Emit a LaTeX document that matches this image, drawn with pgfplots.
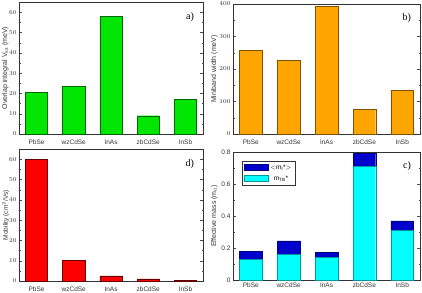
\documentclass[border=0pt]{standalone}
\usepackage{pgfplots}
\pgfplotsset{compat=1.18}
\usepackage{fontspec}
\setmainfont{Liberation Sans}
\newfontfamily\serifp{Liberation Serif}
\definecolor{cgreen}{RGB}{0,230,0}
\definecolor{corange}{RGB}{255,165,0}
\definecolor{cred}{RGB}{255,0,0}
\definecolor{cblue}{RGB}{0,0,205}
\definecolor{ccyan}{RGB}{0,255,255}
\begin{document}
\begin{tikzpicture}[x=1pt,y=1pt]
\useasboundingbox (0,0) rectangle (422,292);
\pgfplotsset{
  every axis/.append style={
    scale only axis, anchor=south west,
    xmin=-0.47, xmax=4.47,
    xtick={0,1,2,3,4},
    xticklabels={PbSe,wzCdSe,InAs,zbCdSe,InSb},
    tick label style={font=\fontsize{6.5}{7}\selectfont, color=black!80},
    x tick style={draw=none},
    y tick style={black!70},
    minor y tick num=1,
    major tick length=3pt, minor tick length=1.5pt,
    ytick pos=both, tick align=inside,
    axis line style={black!80},
    ymin=0,
    bar width=0.6,
    xticklabel style={yshift=1pt},
    yticklabel style={xshift=1pt},
  }
}
% a)
\begin{axis}[at={(19pt,158pt)}, width=184pt, height=132pt, ymax=65, ybar,
  ytick={0,10,...,60},
  ylabel={Overlap integral V$_{\mathrm{ss}}$ (meV)},
  ylabel style={font=\fontsize{7}{8}\selectfont, color=black!80, at={(axis description cs:-0.075,0.5)}, anchor=center}]
\addplot[fill=cgreen, draw=black!60!green] coordinates {(0,20.5) (1,23.5) (2,57.8) (3,9) (4,17)};
\node[font=\serifp\fontsize{10}{11}\selectfont, anchor=north east] at (rel axis cs:0.97,0.95) {a)};
\end{axis}
% b)
\begin{axis}[at={(233pt,158pt)}, width=187pt, height=130pt, ymax=400, ybar,
  ytick={0,100,...,400},
  ylabel={Miniband width (meV)},
  ylabel style={font=\fontsize{7}{8}\selectfont, color=black!80, at={(axis description cs:-0.1,0.5)}, anchor=center}]
\addplot[fill=corange, draw=black!50!corange] coordinates {(0,258) (1,227) (2,392) (3,75) (4,135)};
\node[font=\serifp\fontsize{10}{11}\selectfont, anchor=north east] at (rel axis cs:0.97,0.95) {b)};
\end{axis}
% d)
\begin{axis}[at={(19pt,11pt)}, width=184pt, height=132pt, ymax=65, ybar,
  ytick={0,10,...,60},
  ylabel={Mobility (cm$^2$/Vs)},
  ylabel style={font=\fontsize{6.5}{7}\selectfont, color=black!80, at={(axis description cs:-0.072,0.5)}, anchor=center}]
\addplot[fill=cred, draw=black!60!red] coordinates {(0,60) (1,10) (2,2.5) (3,1.0) (4,0.3)};
\node[font=\serifp\fontsize{10}{11}\selectfont, anchor=north east] at (rel axis cs:0.97,0.95) {d)};
\end{axis}
% c)
\begin{axis}[at={(233pt,12pt)}, width=187pt, height=128pt, ymax=0.8,
  ybar stacked,
  ytick={0,0.2,0.4,0.6,0.8},
  yticklabels={0,0.2,0.4,0.6,0.8},
  ylabel={Effective mass (m$_0$)},
  ylabel style={font=\fontsize{7}{8}\selectfont, color=black!80, at={(axis description cs:-0.1,0.5)}, anchor=center},
  legend style={at={(rel axis cs:0.05,0.93)}, anchor=north west,
    font=\fontsize{6.5}{7}\selectfont, draw=black!80, inner sep=1.5pt,
    row sep=1pt},
  legend image code/.code={\fill[#1] (0pt,-2.5pt) rectangle (24pt,3.5pt);},
  reverse legend]
\addplot[fill=ccyan, draw=black!40!ccyan] coordinates {(0,0.13) (1,0.16) (2,0.14) (3,0.71) (4,0.31)};
\addlegendentry{m$_{\mathrm{TB}}$*}
\addplot[fill=cblue, draw=black!40!cblue] coordinates {(0,0.05) (1,0.085) (2,0.035) (3,0.08) (4,0.06)};
\addlegendentry{$<$m$_{\mathrm{l}}$*$>$}
\node[font=\serifp\fontsize{10}{11}\selectfont, anchor=north east] at (rel axis cs:0.97,0.95) {c)};
\end{axis}
\end{tikzpicture}
\end{document}
